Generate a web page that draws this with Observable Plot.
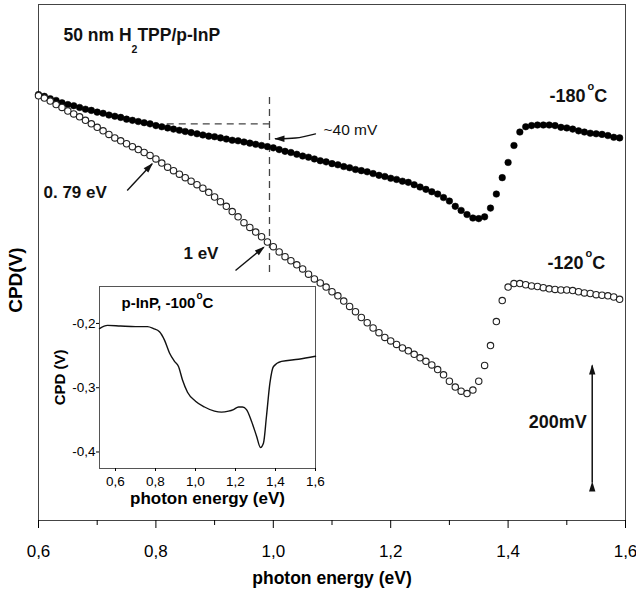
<!DOCTYPE html>
<html>
<head>
<meta charset="utf-8">
<script src="https://cdn.jsdelivr.net/npm/d3@7"></script>
<script src="https://cdn.jsdelivr.net/npm/@observablehq/plot@0.6"></script>
<style>
  body { margin: 0; background: #fff; }
  #wrap { position: relative; width: 636px; height: 594px; overflow: hidden; }
  #inset { position: absolute; left: 40px; top: 276px; }
</style>
</head>
<body>
<div id="wrap"><div id="main"></div><div id="inset"></div></div>
<script>
// ---------- data (photon energy in eV, CPD in mV with arbitrary offset) ----------
const energy = [
  0.60,0.61,0.62,0.63,0.64,0.65,0.66,0.67,0.68,0.69,
  0.70,0.71,0.72,0.73,0.74,0.75,0.76,0.77,0.78,0.79,
  0.80,0.81,0.82,0.83,0.84,0.85,0.86,0.87,0.88,0.89,
  0.90,0.91,0.92,0.93,0.94,0.95,0.96,0.97,0.98,0.99,
  1.00,1.01,1.02,1.03,1.04,1.05,1.06,1.07,1.08,1.09,
  1.10,1.11,1.12,1.13,1.14,1.15,1.16,1.17,1.18,1.19,
  1.20,1.21,1.22,1.23,1.24,1.25,1.26,1.27,1.28,1.29,
  1.30,1.31,1.32,1.33,1.34,1.35,1.36,1.37,1.38,1.39,
  1.40,1.41,1.42,1.43,1.44,1.45,1.46,1.47,1.48,1.49,
  1.50,1.51,1.52,1.53,1.54,1.55,1.56,1.57,1.58,1.59
];
// -180 °C (filled circles)
const cpdMinus180 = [
  728,725,721,718,714,711,709,706,703,701,
  698,696,693,691,689,686,684,682,680,678,
  675,673,671,669,667,665,663,661,659,657,
  656,654,652,650,649,647,645,643,641,639,
  637,634,631,629,626,623,621,618,615,613,
  610,608,605,603,600,598,596,593,590,588,
  585,583,580,578,574,570,566,562,558,552,
  546,537,530,523,517,516,519,534,558,586,
  612,641,664,673,675,676,676,676,675,672,
  671,669,666,664,662,661,660,658,655,654
];
// -120 °C (open circles)
const cpdMinus120 = [
  726,722,717,711,706,700,695,690,684,678,
  672,666,660,654,649,644,639,634,629,624,
  618,611,604,598,592,586,580,574,568,561,
  553,545,537,528,519,509,501,493,485,476,
  468,459,451,444,437,430,421,413,406,399,
  391,384,375,366,357,347,338,329,321,313,
  307,301,295,290,284,278,272,266,258,249,
  238,228,221,217,223,238,265,299,340,376,
  399,405,405,403,401,400,398,396,395,394,
  394,393,391,389,388,386,385,384,382,378
];
// inset: p-InP at -100 °C, CPD in V
const insetEnergy = [0.52,0.56,0.625,0.70,0.76,0.79,0.82,0.845,0.87,0.895,0.915,0.935,0.96,1.00,1.045,1.095,1.13,1.165,1.19,1.215,1.235,1.255,1.28,1.305,1.325,1.34,1.355,1.372,1.39,1.43,1.515,1.60];
const insetCPD = [-0.208,-0.203,-0.204,-0.205,-0.205,-0.208,-0.213,-0.226,-0.246,-0.259,-0.267,-0.288,-0.307,-0.321,-0.330,-0.3365,-0.338,-0.3365,-0.334,-0.330,-0.330,-0.334,-0.352,-0.375,-0.393,-0.386,-0.344,-0.293,-0.267,-0.259,-0.2557,-0.251];

const xTicks = [0.6, 0.8, 1.0, 1.2, 1.4, 1.6];
const xTickLabels = ["0,6", "0,8", "1,0", "1,2", "1,4", "1,6"];
const xMinorTicks = [0.7, 0.9, 1.1, 1.3, 1.5];
const insetYTicks = [-0.2, -0.3, -0.4];
const insetYTickLabels = ["-0,2", "-0,3", "-0,4"];

// annotation anchors (data space)
const guideEnergy = 0.9935;          // vertical dashed line (≈1 eV)
const guideLevel = 677.8;            // horizontal dashed line
const arrows = [
  {x1: 0.7511, y1: 564.1, x2: 0.7936, y2: 609.7},   // 0.79 eV
  {x1: 0.9356, y1: 427.4, x2: 0.9838, y2: 467.2}    // 1 eV
];
const curvedArrow = [[1.0719, 661], [1.0378, 653.8], [1.0037, 652.5]]; // ~40 mV
const scaleBar = [{x: 1.5433, y1: 65, y2: 265}];   // 200 mV

const boldLabels = [
  {x: 0.6426, y: 829.5, t: "50 nm H2TPP/p-InP", size: 17.5},
  {x: 1.4705, y: 724.8, t: "-180°C", size: 18},
  {x: 1.4670, y: 439.3, t: "-120°C", size: 18},
  {x: 0.6085, y: 561.0, t: "0. 79 eV", size: 17},
  {x: 0.8470, y: 456.4, t: "1 eV", size: 17},
  {x: 1.4353, y: 168.0, t: "200mV", size: 18}
];
const plainLabels = [
  {x: 1.0855, y: 666.7, t: "~40 mV", size: 15.5}
];

// ---------- build ----------
const fam = "'Liberation Sans', Arial, Helvetica, sans-serif";
const rows180 = energy.map((e, i) => ({e, v: cpdMinus180[i]}));
const rows120 = energy.map((e, i) => ({e, v: cpdMinus120[i]}));
const insetRows = insetEnergy.map((e, i) => ({e, v: insetCPD[i]}));

const main = Plot.plot({
  width: 636, height: 594,
  marginLeft: 38, marginRight: 11, marginTop: 4, marginBottom: 74,
  x: {domain: [0.6, 1.6]},
  y: {domain: [0, 882], axis: null},
  style: {fontFamily: fam, background: "white", color: "black", overflow: "visible"},
  marks: [
    Plot.frame({stroke: "#444", strokeWidth: 1}),
    Plot.axisX({ticks: xMinorTicks, tickSize: 5, tickFormat: () => "", label: null}),
    Plot.axisX({ticks: xTicks, tickSize: 8, tickPadding: 16, fontSize: 17,
      tickFormat: d => xTickLabels[xTicks.indexOf(d)], label: null}),
    Plot.text(["photon energy (eV)"], {frameAnchor: "bottom", dy: 58, text: d => d,
      fontSize: 17.5, fontWeight: "bold", lineAnchor: "middle"}),
    Plot.text(["CPD(V)"], {x: () => 0.5608, y: () => 411, text: d => d, rotate: -90,
      fontSize: 19, fontWeight: "bold", lineAnchor: "middle"}),
    // dashed guides
    Plot.ruleX([guideEnergy], {y1: 424, y2: 731.6, stroke: "#444", strokeWidth: 1.3, strokeDasharray: "7,5"}),
    Plot.ruleY([guideLevel], {x1: 0.8193, x2: guideEnergy, stroke: "#444", strokeWidth: 1.3, strokeDasharray: "7,5"}),
    // data
    Plot.dot(rows180, {x: "e", y: "v", r: 3.3, fill: "#000", stroke: "#000", strokeWidth: 0.5}),
    Plot.dot(rows120, {x: "e", y: "v", r: 3.2, fill: "white", stroke: "#222", strokeWidth: 1.1}),
    // arrows
    Plot.link(arrows, {x1: "x1", y1: "y1", x2: "x2", y2: "y2", stroke: "#111", strokeWidth: 1.4, markerEnd: "arrow"}),
    Plot.line(curvedArrow, {curve: "catmull-rom", stroke: "#111", strokeWidth: 1.3, markerEnd: "arrow"}),
    Plot.link(scaleBar, {x1: "x", x2: "x", y1: "y1", y2: "y2", stroke: "#111", strokeWidth: 1.5,
      markerStart: "arrow", markerEnd: "arrow"}),
    // labels
    Plot.text(boldLabels, {x: "x", y: "y", text: "t", fontSize: "size", fontWeight: "bold",
      textAnchor: "start", lineAnchor: "middle", fill: "#111"}),
    Plot.text(plainLabels, {x: "x", y: "y", text: "t", fontSize: "size", fontWeight: "normal",
      textAnchor: "start", lineAnchor: "middle", fill: "#111"})
  ]
});

const inset = Plot.plot({
  width: 292, height: 240,
  marginLeft: 59, marginRight: 17, marginTop: 10, marginBottom: 48,
  x: {domain: [0.52, 1.6]},
  y: {domain: [-0.4257, -0.1425]},
  style: {fontFamily: fam, background: "transparent", color: "black", overflow: "visible"},
  marks: [
    Plot.frame({stroke: "#555", strokeWidth: 1}),
    Plot.axisX({ticks: xTicks, tickSize: 3, tickPadding: 5, fontSize: 13.5,
      tickFormat: d => xTickLabels[xTicks.indexOf(d)], label: null}),
    Plot.axisY({ticks: insetYTicks, tickSize: 3, tickPadding: 1, fontSize: 13.5,
      tickFormat: d => insetYTickLabels[insetYTicks.indexOf(d)], label: null}),
    Plot.line(insetRows, {x: "e", y: "v", curve: "monotone-x", stroke: "#111", strokeWidth: 1.4}),
    Plot.text(["photon energy (eV)"], {frameAnchor: "bottom", dy: 30.5, text: d => d,
      fontSize: 17, fontWeight: "bold", lineAnchor: "middle"}),
    Plot.text(["CPD (V)"], {x: () => 0.325, y: () => -0.284, text: d => d, rotate: -90,
      fontSize: 15, fontWeight: "bold", lineAnchor: "middle"}),
    Plot.text(["p-InP, -100°C"], {x: () => 0.63, y: () => -0.169, text: d => d,
      fontSize: 15, fontWeight: "bold", textAnchor: "start", lineAnchor: "middle"})
  ]
});

// filled arrow heads (fixed pixel size)
main.querySelectorAll("marker").forEach(m => {
  m.setAttribute("viewBox", "-10 -5 12 10");
  m.setAttribute("markerUnits", "userSpaceOnUse");
  m.setAttribute("markerWidth", "12");
  m.setAttribute("markerHeight", "10");
  m.setAttribute("overflow", "visible");
  m.setAttribute("stroke", "none");
  m.setAttribute("fill", "#111");
  m.querySelectorAll("path").forEach(p => {
    p.setAttribute("d", "M-9,-3.2L1.2,0L-9,3.2Z");
    p.setAttribute("fill", "#111");
    p.setAttribute("stroke", "none");
  });
});

// rich text (sub/superscripts)
function richText(svg, plain, parts) {
  svg.querySelectorAll("text").forEach(node => {
    if (node.textContent !== plain) return;
    node.textContent = "";
    parts.forEach(p => {
      const ts = document.createElementNS("http://www.w3.org/2000/svg", "tspan");
      ts.textContent = p.text;
      if (p.dy) ts.setAttribute("dy", p.dy);
      if (p.dx) ts.setAttribute("dx", p.dx);
      if (p.size) ts.setAttribute("font-size", p.size);
      node.appendChild(ts);
    });
  });
}
richText(main, "50 nm H2TPP/p-InP", [
  {text: "50 nm H"}, {text: "2", dy: 12, size: 10.5}, {text: "TPP/p-InP", dy: -12}
]);
richText(main, "-180°C", [{text: "-180"}, {text: "o", dy: -12, dx: 2, size: 11}, {text: "C", dy: 12}]);
richText(main, "-120°C", [{text: "-120"}, {text: "o", dy: -12, dx: 2, size: 11}, {text: "C", dy: 12}]);
richText(inset, "p-InP, -100°C", [{text: "p-InP, -100"}, {text: "o", dy: -9, dx: 1, size: 10}, {text: "C", dy: 9}]);

document.getElementById("main").appendChild(main);
document.getElementById("inset").appendChild(inset);
</script>
</body>
</html>
